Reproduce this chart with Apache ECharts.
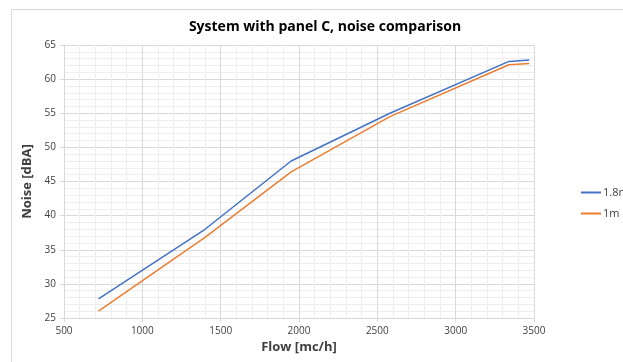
<!DOCTYPE html>
<html>
<head>
<meta charset="utf-8">
<script src="https://cdn.jsdelivr.net/npm/echarts@6/dist/echarts.min.js"></script>
<style>html,body{margin:0;padding:0;background:#fff;}#c{width:623px;height:362px;}</style>
</head>
<body>
<div id="c"></div>
<script>
const flow = [720, 1400, 1950, 2580, 3340, 3470];
const noise18 = [27.8, 38.0, 48.0, 55.0, 62.6, 62.8];
const noise1 = [26.0, 36.8, 46.4, 54.5, 62.1, 62.3];
const seriesNames = ['1.8m', '1m'];
const colors = ['#4472C4', '#ED7D31'];

const font = '"Open Sans", "Liberation Sans", sans-serif';
const chart = echarts.init(document.getElementById('c'));
chart.setOption({
  animation: false,
  graphic: [{
    type: 'rect', left: 9, top: 7, shape: {width: 700, height: 400},
    style: {fill: 'none', stroke: '#d9d9d9', lineWidth: 1}, silent: true
  }],
  title: {
    text: 'System with panel C, noise comparison',
    left: 320, top: 15, textAlign: 'center',
    textStyle: {fontFamily: font, fontSize: 14, fontWeight: 'bold', color: '#000'}
  },
  legend: {
    orient: 'vertical', left: 576, top: 182, itemGap: 10,
    itemWidth: 20, itemHeight: 2, icon: 'rect',
    textStyle: {fontFamily: font, fontSize: 11, color: '#404040', padding: [0,0,0,-3]},
    data: seriesNames
  },
  grid: {left: 64, right: 89, top: 45, bottom: 44},
  xAxis: {
    type: 'value', min: 500, max: 3500, interval: 500,
    name: 'Flow [mc/h]', nameLocation: 'middle', nameGap: 20,
    nameTextStyle: {fontFamily: font, fontSize: 13, fontWeight: 'bold', color: '#404040'},
    axisLine: {show: true, lineStyle: {color: '#d9d9d9'}},
    axisTick: {show: true, length: 4, lineStyle: {color: '#d9d9d9'}},
    axisLabel: {fontFamily: font, fontSize: 10, color: '#404040', margin: 8, formatter: v => String(v)},
    splitLine: {show: true, lineStyle: {color: '#d9d9d9', width: 1}},
    minorTick: {show: false, splitNumber: 5},
    minorSplitLine: {show: true, lineStyle: {color: '#eeeeee', width: 1}}
  },
  yAxis: {
    type: 'value', min: 25, max: 65, interval: 5,
    name: 'Noise [dBA]', nameLocation: 'middle', nameGap: 30, nameRotate: 90,
    nameTextStyle: {fontFamily: font, fontSize: 13, fontWeight: 'bold', color: '#404040'},
    axisLine: {show: true, lineStyle: {color: '#d9d9d9'}},
    axisTick: {show: true, length: 4, lineStyle: {color: '#d9d9d9'}},
    axisLabel: {fontFamily: font, fontSize: 10, color: '#404040', margin: 8, formatter: v => String(v)},
    splitLine: {show: true, lineStyle: {color: '#d9d9d9', width: 1}},
    minorTick: {show: false, splitNumber: 5},
    minorSplitLine: {show: true, lineStyle: {color: '#eeeeee', width: 1}}
  },
  series: [
    {name: seriesNames[0], type: 'line', data: flow.map((f, i) => [f, noise18[i]]),
     showSymbol: false, lineStyle: {color: colors[0], width: 1.5}, itemStyle: {color: colors[0]}},
    {name: seriesNames[1], type: 'line', data: flow.map((f, i) => [f, noise1[i]]),
     showSymbol: false, lineStyle: {color: colors[1], width: 1.5}, itemStyle: {color: colors[1]}}
  ]
});
</script>
</body>
</html>
